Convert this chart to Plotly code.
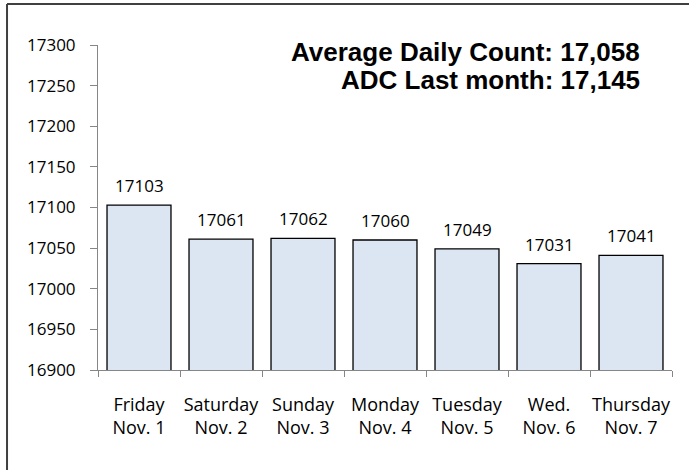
import plotly.graph_objects as go

days = ["Friday", "Saturday", "Sunday", "Monday", "Tuesday", "Wed.", "Thursday"]
dates = ["Nov. 1", "Nov. 2", "Nov. 3", "Nov. 4", "Nov. 5", "Nov. 6", "Nov. 7"]
counts = [17103, 17061, 17062, 17060, 17049, 17031, 17041]
y_ticks = [16900, 16950, 17000, 17050, 17100, 17150, 17200, 17250, 17300]
summary_lines = ["Average Daily Count: 17,058", "ADC Last month: 17,145"]

categories = [f"{d}<br>{n}" for d, n in zip(days, dates)]

FONT = "Open Sans, Liberation Sans, Arial, sans-serif"
BOLD_FONT = "Liberation Sans, Arial, sans-serif"

fig = go.Figure()
fig.add_trace(go.Bar(
    x=categories, y=counts,
    marker=dict(color="#dce6f2", line=dict(color="#000000", width=1.3)),
    hoverinfo="skip",
))

for c, v in zip(categories, counts):
    fig.add_annotation(x=c, y=v, text=str(v), showarrow=False, yanchor="bottom",
                       yshift=6, font=dict(family=FONT, size=17, color="#000000"))

fig.add_annotation(xref="paper", yref="paper", x=0.948, y=1.0, text=f"<b>{summary_lines[0]}</b>",
                   showarrow=False, xanchor="right", yanchor="middle", yshift=-7,
                   font=dict(family=BOLD_FONT, size=26, color="#000000"))
fig.add_annotation(xref="paper", yref="paper", x=0.948, y=1.0, text=f"<b>{summary_lines[1]}</b>",
                   showarrow=False, xanchor="right", yanchor="middle", yshift=-35,
                   font=dict(family=BOLD_FONT, size=26, color="#000000"))

# outer frame (top and left edges visible)
fig.add_shape(type="line", xref="paper", yref="paper", x0=-0.1585, x1=1.2, y0=1.1262, y1=1.1262,
              line=dict(color="#404040", width=2))
fig.add_shape(type="line", xref="paper", yref="paper", x0=-0.1585, x1=-0.1585, y0=-0.4, y1=1.1262,
              line=dict(color="#404040", width=2))

fig.update_layout(
    width=689, height=470,
    margin=dict(l=98, r=17, t=45, b=100),
    paper_bgcolor="#ffffff", plot_bgcolor="#ffffff",
    bargap=0.22, showlegend=False,
    font=dict(family=FONT, color="#000000"),
)
fig.update_xaxes(
    showline=True, linecolor="#868686", linewidth=1,
    ticks="outside", tickson="boundaries", ticklen=6, tickcolor="#868686",
    tickfont=dict(family=FONT, size=18, color="#000000"), tickangle=0,
    ticklabelstandoff=18, showgrid=False, automargin=False,
)
fig.update_yaxes(
    range=[16900, 17300], tickvals=y_ticks, ticktext=[str(t) for t in y_ticks],
    showline=True, linecolor="#868686", linewidth=1,
    ticks="outside", ticklen=7, tickcolor="#868686",
    tickfont=dict(family=FONT, size=17, color="#000000"),
    ticklabelstandoff=11, showgrid=False, zeroline=False, automargin=False,
)

fig.write_html("out.html", config={"displayModeBar": False},
               post_script="document.body.style.margin='0';")
